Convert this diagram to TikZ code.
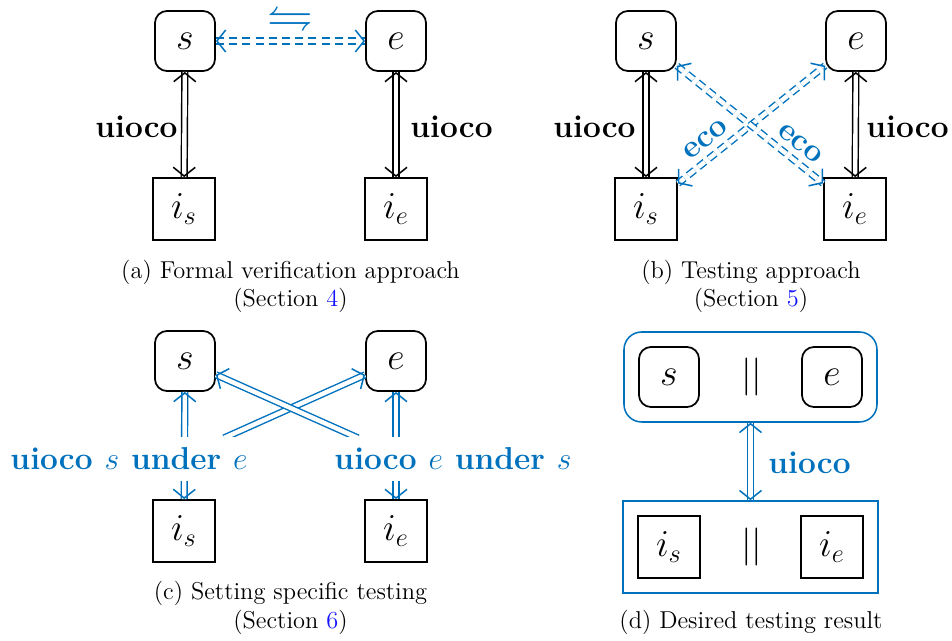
\documentclass[tikz,border=0pt]{standalone}
\usepackage{amssymb}
\usetikzlibrary{arrows.meta,fit}
\definecolor{tblue}{RGB}{0,114,189}
\definecolor{linkblue}{RGB}{20,20,255}
\begin{document}
\begin{tikzpicture}[x=0.4545pt,y=-0.4545pt,
  spec/.style={draw,rounded corners=5.5pt,minimum size=27.3pt,line width=0.8pt,font=\LARGE,inner sep=0pt},
  impl/.style={draw,minimum size=28.2pt,line width=0.8pt,font=\LARGE,inner sep=0pt},
  rel/.style={double,double distance=2pt,line width=0.65pt},
  tipboth/.style={line width=0.7pt,dash pattern=on 0pt off 2000pt,{Straight Barb[length=4pt,width=10pt,line width=0.7pt]}-{Straight Barb[length=4pt,width=10pt,line width=0.7pt]}},
  tipend/.style={line width=0.7pt,dash pattern=on 0pt off 2000pt,-{Straight Barb[length=4pt,width=10pt,line width=0.7pt]}},
  dsh/.style={dash pattern=on 3.7pt off 2.3pt},
  lab/.style={font=\Large\bfseries,inner sep=0pt},
  captxt/.style={font=\fontsize{11.1}{13.6}\selectfont,anchor=base},
  grp/.style={draw=tblue,line width=0.7pt,inner sep=6.4pt}
]
\useasboundingbox (0,0) rectangle (952,641);

% ---------- (a)
\node[spec] (sa) at (185,41) {$s$};
\node[spec] (ea) at (396,41) {$e$};
\node[impl] (isa) at (184,209) {$i_s$};
\node[impl] (iea) at (396,209) {$i_e$};
\draw[rel] (sa) -- (isa);
\draw[tipboth] (sa) -- (isa);
\draw[rel] (ea) -- (iea);
\draw[tipboth] (ea) -- (iea);
\draw[rel,tblue,dsh] (sa) -- (ea);
\draw[tipboth,tblue] (sa) -- (ea);
\node[tblue,font=\huge,inner sep=0pt] (eqa) at (290,19) {$\leftrightharpoons$};
\node[lab,anchor=east] (la1) at (178,127) {uioco};
\node[lab,anchor=west] (la2) at (410,127) {uioco};
\node[captxt] (ca1) at (290.5,279) {(a) Formal verification approach};
\node[captxt] (ca2) at (290.5,307) {(Section \textcolor{linkblue}{4})};

% ---------- (b)
\node[spec] (sb) at (646,41) {$s$};
\node[spec] (eb) at (856,41) {$e$};
\node[impl] (isb) at (646,209) {$i_s$};
\node[impl] (ieb) at (855,209) {$i_e$};
\draw[rel] (sb) -- (isb);
\draw[tipboth] (sb) -- (isb);
\draw[rel] (eb) -- (ieb);
\draw[tipboth] (eb) -- (ieb);
\draw[rel,tblue,dsh] (isb) -- node[lab,tblue,sloped,above,inner sep=4pt,pos=0.26] (lb3) {eco} (eb);
\draw[tipboth,tblue] (isb) -- (eb);
\draw[rel,tblue,dsh] (sb) -- node[lab,tblue,sloped,above,inner sep=4pt,pos=0.77] (lb4) {eco} (ieb);
\draw[tipboth,tblue] (sb) -- (ieb);
\node[lab,anchor=east] (lb1) at (636,127) {uioco};
\node[lab,anchor=west] (lb2) at (866,127) {uioco};
\node[captxt] (cb1) at (751,279) {(b) Testing approach};
\node[captxt] (cb2) at (751,307) {(Section \textcolor{linkblue}{5})};

% ---------- (c)
\node[spec] (sc) at (185,361) {$s$};
\node[spec] (ec) at (396,361) {$e$};
\node[impl] (isc) at (184,531) {$i_s$};
\node[impl] (iec) at (396,531) {$i_e$};
\coordinate (c1) at (224,438);
\coordinate (c2) at (358,438);
\draw[rel,tblue] (sc) -- (isc);
\draw[tipboth,tblue] (sc) -- (isc);
\draw[rel,tblue] (ec) -- (iec);
\draw[tipboth,tblue] (ec) -- (iec);
\draw[rel,tblue] (c1) -- (ec);
\draw[tipend,tblue] (c1) -- (ec);
\draw[rel,tblue] (c2) -- (sc);
\draw[tipend,tblue] (c2) -- (sc);
\node[lab,tblue,fill=white,inner sep=4.8pt] (lc1) at (129,459) {uioco $s$ under $e$};
\node[lab,tblue,fill=white,inner sep=4.8pt] (lc2) at (453,459) {uioco $e$ under $s$};
\node[captxt] (cc1) at (290.5,600) {(c) Setting specific testing};
\node[captxt] (cc2) at (290.5,629) {(Section \textcolor{linkblue}{6})};

% ---------- (d)
\node[spec] (sd) at (669,377) {$s$};
\node[font=\LARGE,inner sep=0pt] (pd1) at (752,377) {$||$};
\node[spec] (ed) at (832,377) {$e$};
\node[impl] (isd) at (669,547) {$i_s$};
\node[font=\LARGE,inner sep=0pt] (pd2) at (752,547) {$||$};
\node[impl] (ied) at (832,547) {$i_e$};
\node[grp,rounded corners=8pt,fit=(sd)(ed)] (topd) {};
\node[grp,fit=(isd)(ied)] (botd) {};
\draw[rel,tblue] (topd.south) -- (botd.north);
\draw[tipboth,tblue] (topd.south) -- (botd.north);
\node[lab,tblue,anchor=west] (ld) at (768,463) {uioco};
\node[captxt] (cd1) at (751,629) {(d) Desired testing result};
\end{tikzpicture}
\end{document}
